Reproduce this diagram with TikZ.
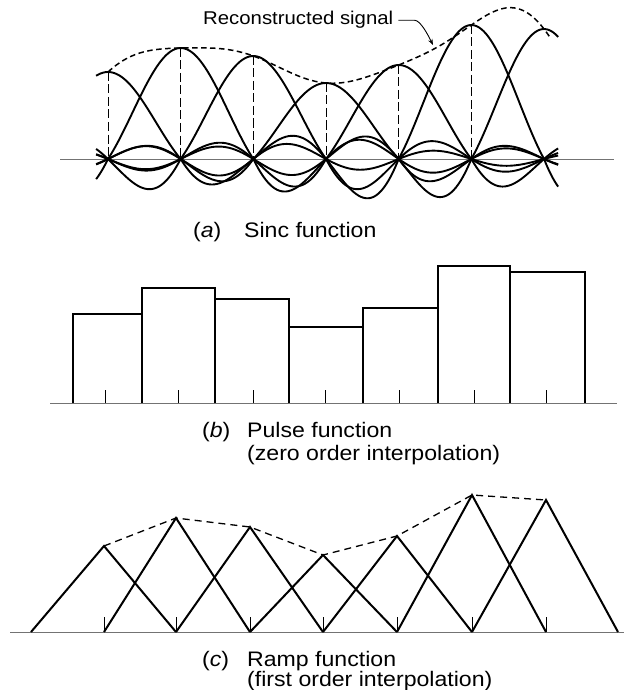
\documentclass[tikz,border=0pt]{standalone}
\usepackage{fontspec}
\setmainfont{Liberation Sans}[FakeStretch=1.1]
\usetikzlibrary{arrows.meta}
\begin{document}
\begin{tikzpicture}[x=1pt,y=-1pt,
  declare function={
    snc(\u)=(abs(\u)<0.001)?1:sin(180*\u)/(pi*\u+(abs(\u)<0.001));
    sk(\t,\n)=snc((\t-108-72.67*\n)/72.67);
    skd(\t,\n)=sk(\t,\n)*((abs((\t-108-72.67*\n)/72.67)>1)?1.35:1);
    recon(\t)=87*sk(\t,0)+111*sk(\t,1)+103*sk(\t,2)+76*sk(\t,3)+94*sk(\t,4)+134*sk(\t,5)+130*sk(\t,6);
  },
  curve/.style={line width=1.9pt, line join=round},
  axisline/.style={line width=0.8pt, black!55},
  reconline/.style={line width=1.5pt, dash pattern=on 5.5pt off 3.5pt},
  sampleline/.style={line width=0.8pt, dash pattern=on 9pt off 3.5pt},
  pulse/.style={line width=1.9pt, line join=miter},
  ramp/.style={line width=2pt, line join=miter},
  tickline/.style={line width=1pt},
  apexline/.style={line width=1.3pt, dash pattern=on 7pt off 5pt},
  caption/.style={inner sep=0pt, anchor=base west, font=\fontsize{21}{23}\selectfont},
  lbl/.style={inner sep=0pt, anchor=base west, font=\fontsize{18.5}{20}\selectfont}
]
\useasboundingbox (0,0) rectangle (625,690);

% ---------------- (a) sinc ----------------
\draw[axisline] (60,159) -- (614,159);
\foreach \k/\a in {0/87,1/111,2/103,3/76,4/94,5/134} {
  \draw[sampleline] ({108+72.67*\k},{159-\a}) -- ({108+72.67*\k},159);
}
\foreach \k/\a in {0/87,1/111,2/103,3/76,4/94,5/134,6/130} {
  \draw[curve] plot[domain=96.13:558.13, samples=200, smooth] (\x,{159-\a*skd(\x,\k)});
}
\draw[reconline] plot[domain=108.01:550, samples=150, smooth] (\x,{159-recon(\x)});

\node[lbl] (rs) at (203,25) {Reconstructed signal};
\coordinate (tip) at (433,45);
\draw[line width=0.9pt, -{Stealth[length=6pt,width=4.5pt]}]
  ([xshift=5pt]rs.east) -- ([xshift=21pt]rs.east) .. controls +(6,0) and +(-5,-10) .. (tip);

\node[caption] (capa) at (193,237) {(\textit{a})};
\node[caption] (capa2) at (244,237) {Sinc function};

% ---------------- (b) pulse ----------------
\draw[axisline] (50,403) -- (617,403);
\foreach \l/\r/\t in {73/142/314,142/215/288,215/289/299,289/363/327,363/438/308,438/510/266,510/585/272} {
  \draw[pulse] (\l,403) -- (\l,\t) -- (\r,\t) -- (\r,403);
}
\foreach \x in {105,178,253,325,399,474,546} {
  \draw[tickline] (\x,403) -- (\x,390);
}
\node[caption] (capb) at (202,437) {(\textit{b})};
\node[caption] (capb2) at (247,437) {Pulse function};
\node[caption] (capb3) at (247,460) {(zero order interpolation)};

% ---------------- (c) ramp ----------------
\draw[axisline] (10,632) -- (624,632);
\coordinate (b-1) at (31,632);
\coordinate (b7) at (618,632);
\foreach \k/\x/\y in {0/104/546,1/176/518,2/250/527,3/323/555,4/397/536,5/472/495,6/546/500} {
  \coordinate (p\k) at (\x,\y);
  \coordinate (b\k) at (\x,632);
}
\foreach \k in {0,...,6} {
  \draw[tickline] (b\k) -- ++(0,-15);
}
\foreach \k [evaluate=\k as \km using int(\k-1), evaluate=\k as \kp using int(\k+1)] in {0,...,6} {
  \draw[ramp] (b\km) -- (p\k) -- (b\kp);
}
\draw[apexline] (p0) -- (p1) -- (p2) -- (p3) -- (p4) -- (p5) -- (p6);

\node[caption] (capc) at (202,666) {(\textit{c})};
\node[caption] (capc2) at (247,666) {Ramp function};
\node[caption] (capc3) at (247,686) {(first order interpolation)};
\end{tikzpicture}
\end{document}
